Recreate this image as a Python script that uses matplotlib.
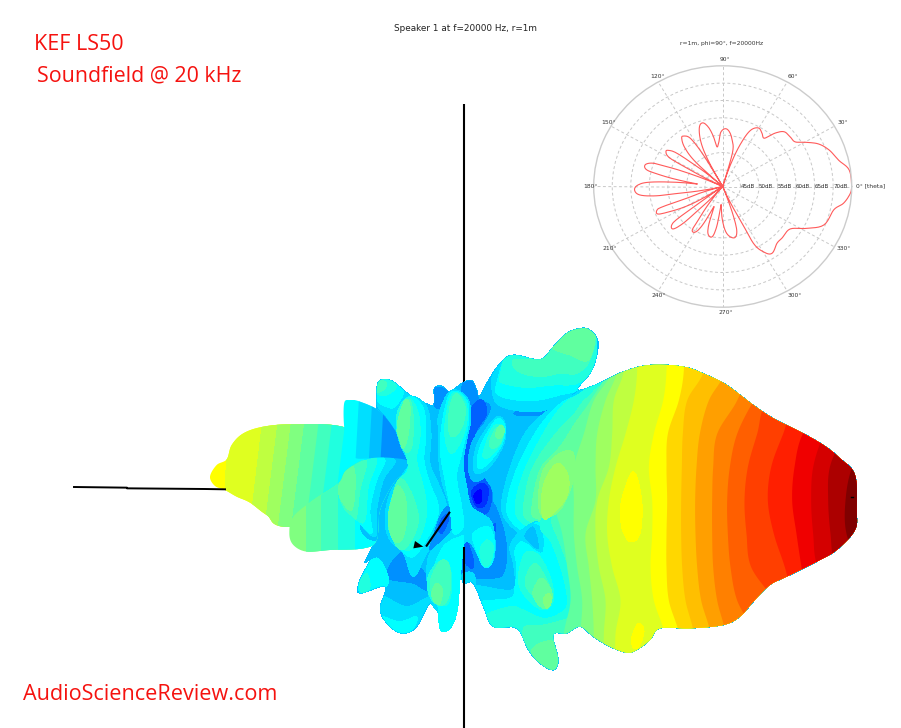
import matplotlib
matplotlib.use('Agg')
import matplotlib.pyplot as plt
import numpy as np
from matplotlib.patches import Polygon

W, H = 901, 728

theta_deg = [0, 7.5, 12.7, 19.1, 23.9, 27.6, 31.5, 36.2, 41.7, 45.5, 49.2, 53.8, 58.6, 63.8, 67.4, 71, 72.5,
             73.8, 78.7, 83.4, 87.7, 92.1, 94.7, 98.2, 100.6, 103.6, 107.5, 111.8, 116.7, 119.5, 120.5,
             121, 122, 124, 127.7, 130.3, 134.5, 138, 139.5,
             141, 142.5, 144, 146, 148.3, 151.7, 153, 156,
             158, 159.5, 160.5, 161.5, 164.3, 167.6, 169.5, 174,
             174.6, 176.6, 178.9, 182.2, 185.8, 188, 188.9, 192, 194,
             196, 198, 198.6, 199.7, 203, 205.4, 209.6, 213,
             215, 215.5, 217, 220.6, 223, 224, 226, 227,
             231, 233.9, 235, 238.8, 242, 246.6,
             250.3, 253.5, 258.3, 261.5, 264,
             266, 269.4, 274.9, 282.5, 287.3, 289.7, 291.8, 293,
             297.5, 298.4, 302, 306.3, 313.6, 318.8, 327.8, 333.6, 339.2, 348.1, 352.1, 357, 360]
level_db = [75, 74.6, 72.3, 70.5, 68.5, 65.9, 63.2, 62.8, 62.4, 60.4, 57.4, 58.1, 58.7, 57, 52.4, 45, 40.2,
            49.6, 53.1, 55.2, 55.8, 54.8, 52.4, 51, 54, 56.7, 58.2, 57.2, 52.8, 47, 40.2,
            47, 52, 56, 57.4, 57.3, 54.7, 49.7, 40.2,
            46, 50, 55.5, 57.6, 58.2, 56.4, 50.1, 40.2,
            47, 53, 56.3, 60, 61.9, 61.2, 57.4, 47.2,
            51.8, 59.9, 63, 64, 62.7, 58.2, 51.9, 42.7, 40.2,
            46, 50, 57.2, 59, 59.2, 56, 49.3, 40.2,
            47, 54.9, 57.4, 57.8, 54.7, 50, 44, 40.2,
            46, 51.4, 54.5, 54.6, 52.4, 46.1,
            51.7, 53.8, 54, 51.1, 45.7,
            45.6, 49.2, 52.9, 54.4, 53, 49.3, 43, 40.2,
            50.4, 57.6, 61, 62.6, 61.4, 61.4, 61.7, 65.6, 69.4, 70.8, 73.1, 74.7, 75]
ring_db = [45, 50, 55, 60, 65, 70]
angle_labels = ['90°', '60°', '30°', '330°', '300°', '270°', '240°', '210°', '180°', '150°', '120°']
angle_label_x = [436, 638, 788, 790, 643, 437, 236, 88, 32, 87, 234]
angle_label_y = [88, 139, 279, 657, 796, 846, 796, 657, 470, 279, 139]

# jet steps of the soundfield
colors = ['#0000ff', '#0030ff', '#0060ff', '#0090ff', '#00bfff', '#00dfff', '#00ffff', '#20ffdf', '#40ffbf',
          '#60ff9f', '#80ff80', '#9fff60', '#bfff40', '#dfff20', '#ffff00', '#ffd700', '#ffbf00', '#ff9f00',
          '#ff8000', '#ff5f00', '#ff3f00', '#ff1f00', '#f00000', '#d40000', '#ac0000', '#800000']

# traced outlines, in 1/3 pixel units
body = [(532, 195), (548, 178), (580, 185), (630, 225), (690, 255), (703, 245), (703, 205), (725, 198), (750, 215),
        (785, 190), (815, 182), (830, 210), (838, 230), (860, 190), (900, 130), (940, 105), (1020, 118), (1060, 80),
        (1100, 40), (1140, 25), (1170, 30), (1195, 70), (1176, 150), (1132, 208), (1185, 195), (1270, 155),
        (1350, 135), (1450, 140), (1520, 165), (1580, 195), (1660, 255), (1720, 295), (1800, 335), (1870, 375),
        (1920, 415), (1965, 465), (1970, 570), (1965, 630), (1910, 690), (1850, 725), (1760, 770), (1710, 795),
        (1660, 845), (1620, 890), (1570, 915), (1470, 925), (1380, 925), (1350, 960), (1310, 990), (1280, 998),
        (1230, 980), (1180, 950), (1140, 920), (1100, 940), (1060, 945), (1075, 1020), (1060, 1050), (1020, 1030),
        (985, 990), (950, 925), (880, 920), (850, 860), (820, 790), (792, 790), (780, 770), (770, 880), (745, 930),
        (725, 925), (715, 880), (690, 850), (650, 920), (610, 940), (570, 920), (540, 870), (555, 800), (480, 820),
        (478, 785), (510, 720), (495, 725), (525, 660), (530, 600), (525, 400), (530, 250)]
far_lobe = [(30, 470), (50, 435), (80, 418), (95, 375), (130, 340), (190, 320), (280, 313), (435, 322), (600, 400),
            (600, 600), (270, 622), (200, 585), (150, 548), (110, 530), (75, 510), (45, 498)]
upper_lobe = [(432, 252), (450, 240), (480, 245), (540, 275), (590, 340), (625, 425), (600, 470), (520, 420),
              (460, 410), (435, 340)]
lower_lobe = [(268, 640), (280, 590), (340, 540), (415, 490), (440, 450), (510, 415), (620, 420), (620, 450),
              (580, 490), (540, 570), (530, 660), (490, 685), (390, 690), (320, 695), (280, 675)]

far_y = [300, 620]
far_levels = [14, 13, 12, 11, 10, 9, 8, 7, 6, 5]
far_edges = [(-100, -100), (85, 70), (188, 150), (235, 195), (275, 235), (315, 275), (355, 315), (395, 355),
             (435, 395), (520, 480)]
upper_y = [240, 420]
upper_levels = [6, 5, 4, 3]
upper_edges = [(400, 400), (475, 465), (515, 505), (550, 540)]
lower_y = [420, 700]
lower_levels = [10, 9, 8, 7, 6, 5]
lower_edges = [(200, 200), (318, 318), (362, 362), (415, 415), (465, 465), (530, 530)]

top_left_shapes = [
    (5, [(530, 250), (535, 185), (580, 180), (630, 230), (595, 290), (590, 330), (560, 290)]),
    (6, [(532, 240), (535, 185), (575, 180), (610, 215), (585, 260), (560, 260)]),
    (7, [(532, 220), (535, 185), (570, 180), (590, 200), (560, 225)]),
    (8, [(532, 215), (540, 182), (560, 190), (550, 210)]),
    (3, [(703, 205), (750, 215), (745, 260), (705, 260)]),
    (3, [(560, 770), (600, 700), (640, 720), (680, 770), (680, 810), (640, 790)]),
    (5, [(540, 870), (550, 830), (620, 860), (690, 830), (690, 860), (650, 920), (610, 940), (570, 925)]),
    (6, [(545, 890), (600, 905), (650, 890), (640, 925), (610, 942), (570, 925)]),
    (6, [(478, 785), (510, 725), (540, 720), (565, 790), (500, 820), (480, 820)]),
    (7, [(478, 790), (500, 760), (510, 800), (490, 822)]),
]

# upper right of the centre, local origin at 780, 60
upper_right_shapes = [
    (3, [(270, 205), (240, 225), (170, 225), (170, 215), (230, 212)]),
    (5, [(100, 170), (125, 200), (200, 215), (270, 205), (350, 150), (395, 100), (400, 0), (295, 0), (240, 50), (160, 35), (100, 100)]),
    (6, [(110, 130), (115, 165), (170, 180), (235, 180), (300, 165), (352, 150), (400, 100), (400, -20), (290, -20), (230, 40), (150, 30)]),
    (7, [(120, 108), (130, 130), (200, 142), (280, 135), (352, 130), (400, 80), (400, -20), (290, -20), (230, 40), (150, 30)]),
    (8, [(160, 60), (175, 95), (240, 110), (300, 100), (350, 100), (390, 60), (400, -20), (290, -20), (240, 50)]),
    (9, [(275, 20), (300, -30), (400, -30), (385, 60), (330, 45)]),
    (5, [(440, 120), (340, 165), (265, 210), (195, 280), (145, 400), (125, 510), (165, 570), (200, 585), (240, 555), (320, 500), (460, 400)]),
    (6, [(440, 130), (352, 165), (290, 200), (225, 280), (165, 400), (140, 510), (175, 565), (205, 575), (245, 550), (320, 495), (460, 400)]),
    (7, [(440, 140), (345, 170), (300, 205), (250, 280), (190, 400), (165, 510), (195, 555), (220, 560), (250, 545), (320, 490), (460, 400)]),
    (8, [(440, 150), (380, 175), (340, 225), (280, 290), (215, 390), (190, 510), (210, 545), (230, 550), (320, 485), (460, 400)]),
    (9, [(440, 160), (415, 170), (360, 230), (300, 320), (240, 390), (215, 510), (230, 535), (260, 530), (320, 480), (460, 400)]),
]

# lower right of the centre, local origin at 780, 570
lower_right_shapes = [
    (5, [(40, 230), (130, 240), (165, 230), (160, 160), (150, 110), (175, 70), (215, 40), (240, 40), (300, 100), (330, 360), (200, 400), (100, 360), (70, 300)]),
    (6, [(65, 275), (150, 265), (165, 230), (170, 170), (165, 120), (190, 90), (205, 100), (235, 115), (220, 50), (250, 40), (300, 100), (340, 330), (200, 400), (100, 355), (75, 310)]),
    (5, [(185, 85), (215, 45), (245, 60), (245, 125), (205, 100)]),
    (4, [(195, 75), (220, 52), (235, 115), (205, 92)]),
    (7, [(240, 50), (275, 100), (310, 200), (322, 280), (300, 310), (250, 325), (190, 300), (150, 290), (70, 320), (100, 358), (170, 358), (200, 400), (280, 395), (360, 350), (360, 0), (270, 0)]),
    (8, [(275, 30), (300, 100), (335, 200), (345, 290), (335, 320), (250, 345), (195, 350), (190, 395), (215, 440), (250, 500), (310, 500), (295, 390), (360, 350), (360, 0), (310, 0)]),
    (9, [(215, 425), (240, 400), (280, 395), (295, 440), (275, 490), (245, 470)]),
    (3, [(25, -20), (90, -30), (125, 40), (140, 120), (130, 190), (95, 205), (40, 205), (10, 200), (0, 120)]),
    (2, [(20, -30), (90, -20), (105, 40), (100, 70), (60, 35), (40, 10)]),
    (2, [(5, 110), (20, 92), (40, 150), (35, 175), (10, 150)]),
    (5, [(10, 190), (40, 190), (45, 225), (20, 235), (5, 220)]),
]
lower_right_lobe = [
    (7, [(175, 210), (195, 130), (235, 135), (270, 200), (280, 270), (250, 300), (200, 265)]),
    (8, [(195, 215), (225, 160), (265, 220), (275, 270), (250, 295), (220, 260)]),
    (9, [(220, 240), (245, 205), (275, 245), (270, 285), (250, 295), (225, 270)]),
    (10, [(250, 270), (265, 250), (275, 270), (262, 295)]),
]

centre_dark = [
    (3, [(790, 230), (840, 240), (870, 260), (855, 300), (820, 350), (800, 420), (830, 470), (870, 500), (880, 560), (880, 610), (830, 570), (790, 470), (780, 350)]),
    (3, [(790, 185), (825, 185), (835, 240), (790, 240)]),
    (2, [(815, 265), (845, 240), (860, 280), (825, 340), (815, 400), (850, 470), (875, 520), (860, 580), (825, 560), (795, 480), (795, 350)]),
    (1, [(815, 515), (845, 490), (865, 510), (855, 555), (830, 560)]),
    (0, [(822, 525), (842, 510), (845, 540), (830, 550)]),
]

# left edges of the steps on the front lobe, 1/3 px from x=1020, at band_y (from y=90)
band_y = [-60, 60, 150, 250, 350, 450, 550, 650, 750, 850, 950]
band_levels = list(range(9, 26))
band_edges = [
    [200, 200, 150, 85, 60, 40, 65, 80, 90, 70, 70],
    [215, 215, 160, 130, 100, 100, 100, 110, 125, 120, 120],
    [230, 230, 195, 170, 165, 165, 135, 145, 155, 160, 160],
    [250, 250, 220, 215, 205, 170, 165, 175, 195, 190, 190],
    [290, 290, 280, 255, 225, 205, 200, 215, 240, 225, 225],
    [378, 378, 368, 340, 325, 335, 335, 330, 340, 372, 372],
    [430, 430, 415, 382, 378, 380, 378, 378, 385, 415, 415],
    [490, 490, 440, 427, 424, 422, 422, 425, 435, 460, 460],
    [555, 555, 505, 478, 468, 464, 465, 470, 482, 510, 510],
    [620, 620, 590, 530, 518, 515, 515, 518, 530, 555, 555],
    [700, 700, 640, 590, 568, 560, 562, 570, 590, 640, 640],
    [790, 790, 680, 650, 622, 612, 618, 632, 700, 740, 800],
    [900, 900, 770, 728, 692, 682, 700, 733, 760, 800, 900],
    [980, 980, 860, 787, 762, 755, 768, 783, 800, 900, 980],
    [1000, 1000, 900, 850, 818, 812, 818, 832, 900, 1000, 1000],
    [1000, 1000, 950, 910, 868, 863, 870, 885, 950, 1000, 1000],
    [1000, 1000, 1000, 990, 935, 915, 918, 960, 1000, 1000, 1000],
]

front_shapes = [
    (10, [(1080, 400), (1030, 450), (1015, 540), (1030, 590), (1080, 570), (1120, 480), (1120, 400)]),
    (11, [(1075, 430), (1105, 470), (1100, 530), (1060, 580), (1030, 595), (1025, 530), (1040, 470)]),
    (14, [(1300, 455), (1325, 540), (1320, 640), (1290, 665), (1265, 620), (1265, 540)]),
    (14, [(1315, 910), (1332, 930), (1320, 975), (1300, 985), (1296, 950)]),
]

oval_shapes = [
    (4, [(805, 440), (820, 360), (885, 288), (917, 300), (917, 370), (875, 450), (825, 485)]),
    (5, [(820, 430), (835, 365), (888, 292), (915, 310), (912, 370), (870, 440), (830, 460)]),
    (6, [(832, 420), (845, 370), (890, 298), (915, 320), (905, 375), (865, 430), (838, 445)]),
    (7, [(850, 395), (880, 320), (910, 320), (905, 365), (875, 405), (855, 415)]),
    (8, [(868, 370), (888, 325), (912, 325), (900, 370), (880, 385)]),
    (9, [(890, 330), (905, 315), (913, 335), (900, 355), (888, 350)]),
    (5, [(587, 310), (600, 250), (635, 228), (680, 260), (693, 340), (690, 430), (715, 490), (740, 560), (730, 620), (680, 700), (640, 770), (610, 700), (570, 660), (555, 600), (570, 520), (610, 460), (625, 430), (600, 370)]),
    (6, [(590, 310), (605, 250), (635, 230), (670, 265), (678, 340), (672, 420), (690, 490), (715, 560), (700, 620), (640, 710), (590, 670), (565, 600), (580, 520), (620, 450), (628, 420), (600, 360)]),
    (7, [(590, 310), (605, 250), (630, 235), (655, 280), (660, 350), (650, 420), (670, 500), (680, 570), (665, 640), (630, 690), (590, 670), (565, 600), (590, 490), (625, 440)]),
    (8, [(592, 320), (610, 255), (630, 240), (640, 300), (635, 380), (615, 395), (595, 350)]),
    (8, [(565, 590), (595, 480), (630, 510), (655, 590), (640, 650), (605, 690), (575, 650)]),
    (9, [(592, 310), (615, 240), (630, 260), (625, 340), (610, 385), (597, 350)]),
    (9, [(565, 590), (590, 500), (615, 530), (620, 600), (605, 660), (580, 660)]),
    (3, [(700, 650), (720, 590), (745, 560), (760, 620), (730, 660), (690, 690)]),
    (2, [(715, 620), (735, 585), (745, 600), (725, 640)]),
    (5, [(715, 290), (740, 225), (770, 210), (805, 240), (812, 300), (800, 360), (790, 430), (800, 500), (815, 560), (870, 600), (885, 660), (880, 720), (855, 740), (820, 680), (800, 665), (785, 690), (775, 790), (770, 880), (745, 930), (720, 915), (715, 880), (690, 840), (680, 760), (690, 700), (730, 660), (760, 620), (750, 560), (725, 480), (715, 400), (715, 330)]),
    (6, [(725, 320), (745, 230), (770, 214), (802, 245), (805, 310), (785, 400), (770, 470), (785, 560), (790, 620), (760, 640), (750, 560), (735, 480), (722, 400)]),
    (7, [(735, 310), (750, 235), (770, 218), (798, 250), (800, 310), (780, 370), (755, 400), (738, 370)]),
    (8, [(745, 300), (755, 240), (772, 222), (795, 260), (790, 310), (770, 345), (750, 345)]),
    (6, [(820, 640), (865, 620), (883, 665), (875, 730), (850, 738), (825, 680)]),
    (7, [(840, 690), (860, 660), (880, 680), (870, 730), (850, 735)]),
    (6, [(695, 760), (730, 680), (780, 650), (790, 660), (780, 780), (770, 880), (745, 930), (720, 925), (712, 850), (685, 800)]),
    (7, [(682, 780), (710, 730), (745, 730), (755, 790), (745, 850), (715, 855), (690, 830)]),
    (8, [(690, 790), (720, 725), (745, 730), (752, 790), (742, 840), (715, 855)]),
    (9, [(695, 820), (710, 790), (727, 810), (720, 850), (703, 845)]),
]

lower_shapes = [
    (4, [(530, 420), (620, 420), (620, 450), (580, 490), (540, 570), (530, 660), (480, 610)]),
    (5, [(415, 500), (440, 450), (510, 415), (585, 420), (550, 480), (530, 570), (525, 650), (470, 600), (430, 560)]),
    (6, [(415, 500), (440, 450), (510, 415), (555, 420), (530, 480), (510, 570), (515, 640), (470, 600), (430, 560)]),
    (7, [(415, 500), (440, 450), (510, 418), (530, 425), (505, 500), (495, 600), (470, 600), (430, 560)]),
    (8, [(415, 500), (440, 450), (480, 425), (500, 430), (480, 510), (470, 590), (460, 590), (430, 560)]),
    (9, [(415, 505), (440, 450), (462, 445), (465, 510), (455, 570), (430, 550)]),
]


def smooth(pts, closed=True, n=10):
    # catmull-rom through the traced points
    p = np.array(pts, dtype=float)
    if closed:
        p0, p1, p2, p3 = np.roll(p, 1, 0), p, np.roll(p, -1, 0), np.roll(p, -2, 0)
    else:
        q = np.vstack([p[0], p, p[-1]])
        p0, p1, p2, p3 = q[:-3], q[1:-2], q[2:-1], q[3:]
    t = np.linspace(0, 1, n, endpoint=False)[None, :, None]
    p0, p1, p2, p3 = [a[:, None, :] for a in (p0, p1, p2, p3)]
    c = 0.5 * (2 * p1 + (p2 - p0) * t + (2 * p0 - 5 * p1 + 4 * p2 - p3) * t ** 2
               + (3 * p1 - p0 - 3 * p2 + p3) * t ** 3)
    c = c.reshape(-1, 2)
    return np.vstack([c, p[-1]]) if not closed else c


def draw_shapes(ax, shapes, clip=None, z=2, dx=0, dy=0):
    for level, pts in shapes:
        c = smooth(pts)
        artists = ax.fill(c[:, 0] + dx, c[:, 1] + dy, color=colors[level], lw=0, antialiased=False, zorder=z)
        if clip is not None:
            artists[0].set_clip_path(clip)


def draw_bands(ax, y, levels, edges, clip, z=2):
    for level, e in zip(levels, edges):
        art = ax.fill_betweenx(y, e, 3000, color=colors[level], lw=0, antialiased=False, zorder=z)
        art.set_clip_path(clip)


def clip_patch(ax, pts):
    patch = Polygon(smooth(pts), closed=True, fc='none', ec='none', transform=ax.transData)
    ax.add_patch(patch)
    return patch


def px_text(fig, x, y, s, **kw):
    fig.text(x / W, 1 - y / H, s, **kw)


fig = plt.figure(figsize=(W / 100, H / 100), dpi=100)
ax = fig.add_axes([0, 0, 1, 1])
ax.set_xlim(-600, (W - 200) * 3)
ax.set_ylim((H - 320) * 3, -960)
ax.axis('off')

# axes lines, the upper ones stay behind the balloon
ax.plot([792, 792], [-648, 400], color='k', lw=1.5, zorder=1, solid_capstyle='butt')
ax.plot([792, 792], [682, 1224], color='k', lw=1.5, zorder=6, solid_capstyle='butt')
ax.plot([-378, -219, -219, 15, 75], [501, 503, 505, 507, 508], color='k', lw=1.4, zorder=6)
ax.plot([748, 680], [578, 677], color='k', lw=1.5, zorder=6)
ax.fill([640, 645, 670], [685, 663, 680], color='k', lw=0, zorder=6)
ax.plot([1954, 1960], [530, 530], color='k', lw=1, zorder=6)

far_clip = clip_patch(ax, far_lobe)
draw_bands(ax, far_y, far_levels, far_edges, far_clip)

body_clip = clip_patch(ax, body)
c = smooth(body)
ax.fill(c[:, 0], c[:, 1], color=colors[4], lw=0, antialiased=False, zorder=2)
draw_shapes(ax, top_left_shapes, body_clip)
draw_shapes(ax, upper_right_shapes, body_clip, dx=780, dy=60)
draw_shapes(ax, lower_right_shapes, body_clip, dx=780, dy=570)
draw_shapes(ax, centre_dark, body_clip)
for level, row in zip(band_levels, band_edges):
    xs = smooth(list(zip(row, band_y)), closed=False)
    art = ax.fill_betweenx(xs[:, 1] + 90, xs[:, 0] + 1020, 3000, color=colors[level], lw=0,
                           antialiased=False, zorder=2)
    art.set_clip_path(body_clip)
draw_shapes(ax, lower_right_lobe, body_clip, dx=780, dy=570)
draw_shapes(ax, front_shapes, body_clip)

upper_clip = clip_patch(ax, upper_lobe)
draw_bands(ax, upper_y, upper_levels, upper_edges, upper_clip)

lower_clip = clip_patch(ax, lower_lobe)
draw_bands(ax, lower_y, lower_levels, lower_edges, lower_clip)
draw_shapes(ax, lower_shapes, lower_clip)

draw_shapes(ax, oval_shapes)

# polar inset, the frame is squashed so the reading gets stretched back up
cx, cy, rx, ry = 722.7, 186.5, 129, 120.7
pol = fig.add_axes([(cx - rx) / W, 1 - (cy + ry) / H, 2 * rx / W, 2 * ry / H], projection='polar')
pol.set_aspect('auto')
pol.patch.set_alpha(0)
curve = smooth(list(zip(theta_deg, level_db)), closed=False, n=6)
rad = np.clip(curve[:, 1], 40.2, None) - 40.2
ang = np.radians(curve[:, 0])
px, py = rad * np.cos(ang), rad * np.sin(ang) * rx / ry
pol.plot(np.arctan2(py, px), 40.2 + np.hypot(px, py), color='#ff5a5a', lw=0.8)
pol.set_ylim(40.2, 75)
pol.set_rgrids(ring_db, labels=[])
pol.set_thetagrids(range(0, 360, 30), labels=[])
pol.grid(True, color='#c8c8c8', lw=0.7, ls=(0, (3, 2.5)))
pol.spines['polar'].set_color('#cccccc')
pol.spines['polar'].set_linewidth(1)
pol.tick_params(length=0)
for db in ring_db:
    pol.text(0, db, '%ddB' % db, fontsize=4.1, color='#333333', ha='left', va='center')

small = dict(fontsize=4.3, color='#333333', ha='center', va='center')
for s, x, y in zip(angle_labels, angle_label_x, angle_label_y):
    px_text(fig, 580 + x / 3, 30 + y / 3, s, **small)
px_text(fig, 856, 185.5, '0° [theta]', fontsize=4.3, color='#333333', ha='left', va='center')
px_text(fig, 722, 43.5, 'r=1m, phi=90°, f=20000Hz', **small)

px_text(fig, 465.5, 28.5, 'Speaker 1 at f=20000 Hz, r=1m', fontsize=6.4, color='#222222', ha='center', va='center')

red = dict(family='Open Sans', color='#f5120f', ha='left', va='center')
px_text(fig, 34, 44, 'KEF LS50', fontsize=15.5, **red)
px_text(fig, 37, 76, 'Soundfield @ 20 kHz', fontsize=15.4, **red)
px_text(fig, 23, 695, 'AudioScienceReview.com', fontsize=15.6, **red)

fig.savefig('out.png', dpi=100)
